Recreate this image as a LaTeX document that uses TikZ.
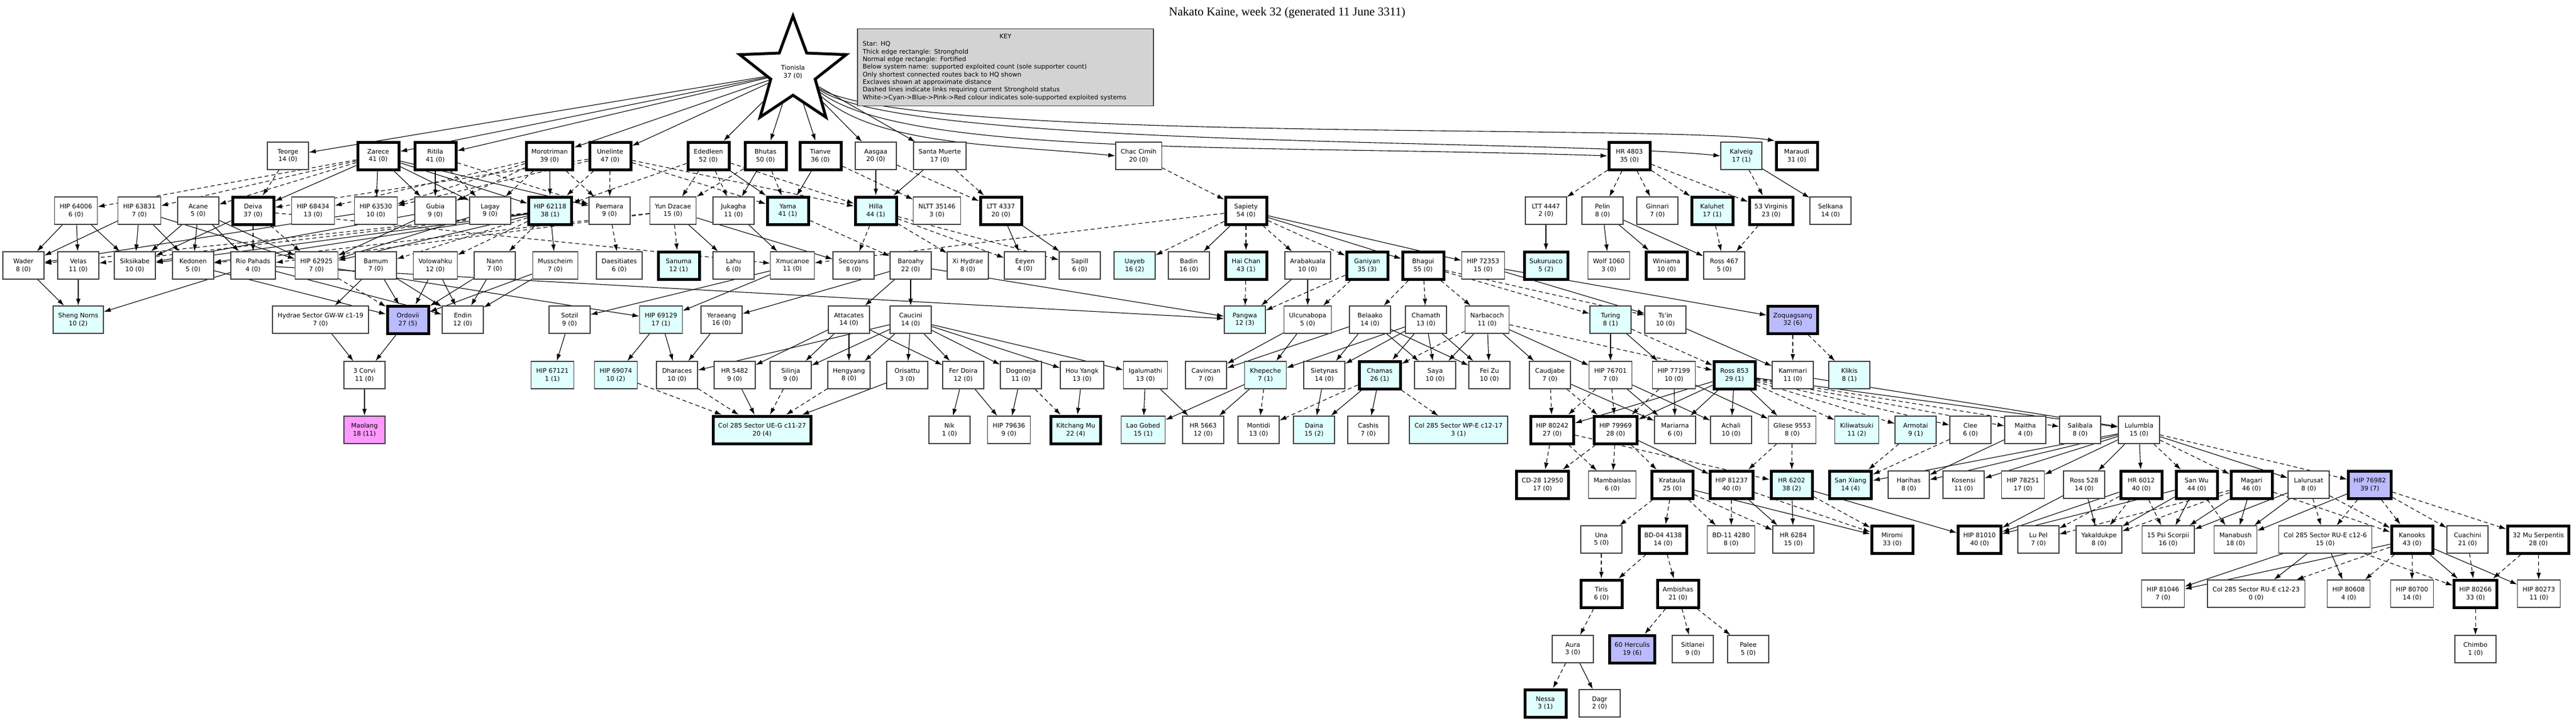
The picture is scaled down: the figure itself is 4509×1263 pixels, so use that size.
\documentclass[tikz,border=0pt]{standalone}
\usepackage{fontspec}
\setmainfont{DejaVu Sans}
\newfontfamily\titlefont{Liberation Serif}
\usetikzlibrary{shapes.geometric,arrows.meta}
\pgfdeclarelayer{edgelayer}
\pgfsetlayers{edgelayer,main}
\definecolor{cyn}{HTML}{E0FFFF}
\definecolor{blu}{HTML}{BBBBFF}
\definecolor{pnk}{HTML}{FF99FF}
\definecolor{keyg}{HTML}{D3D3D3}
\tikzset{
 sys/.style={draw=black!75,line width=1.4pt,fill=white,rectangle,align=center,minimum width=72pt,minimum height=48pt,inner xsep=9pt,font=\fontsize{11}{13.3}\selectfont},
 th/.style={draw=black,line width=5pt},
 cy/.style={fill=cyn}, bl/.style={fill=blu}, pk/.style={fill=pnk},
 ar/.style={-{Latex[length=12pt,width=8pt]},line width=1.1pt},
 da/.style={ar,dash pattern=on 7pt off 5pt},
}
\begin{document}
\begin{tikzpicture}[x=1pt,y=1pt]
\useasboundingbox (0,0) rectangle (4509,-1263);
\node[font=\titlefont\fontsize{21}{24}\selectfont] (title) at (2253,-22) {Nakato Kaine, week 32 (generated 11 June 3311)};
\node[draw=black!75,line width=1.2pt,fill=keyg,text width=500pt,align=left,inner sep=9pt,font=\fontsize{11}{13.3}\selectfont] (key) at (1760,-118) {\makebox[\linewidth]{KEY}\\Star: HQ\\Thick edge rectangle: Stronghold\\Normal edge rectangle: Fortified\\Below system name: supported exploited count (sole supporter count)\\Only shortest connected routes back to HQ shown\\Exclaves shown at approximate distance\\Dashed lines indicate links requiring current Stronghold status\\White->Cyan->Blue->Pink->Red colour indicates sole-supported exploited systems};
\node[star,star points=5,star point ratio=2.4,minimum size=196pt,inner sep=0pt,draw=black,line width=5pt,fill=white,align=center,font=\fontsize{11}{13.3}\selectfont] (T) at (1388,-126) {Tionisla\\37 (0)};
% r1
\node[sys] (teorge) at (504,-273) {Teorge\\14 (0)};
\node[sys,th] (zarece) at (662,-273) {Zarece\\41 (0)};
\node[sys,th] (ritila) at (762,-273) {Ritila\\41 (0)};
\node[sys,th] (moro) at (962,-273) {Morotriman\\39 (0)};
\node[sys,th] (unel) at (1068,-273) {Unelinte\\47 (0)};
\node[sys,th] (eded) at (1240,-273) {Ededleen\\52 (0)};
\node[sys,th] (bhutas) at (1340,-273) {Bhutas\\50 (0)};
\node[sys,th] (tianve) at (1436,-273) {Tianve\\36 (0)};
\node[sys] (aasgaa) at (1533,-273) {Aasgaa\\20 (0)};
\node[sys] (santa) at (1645,-273) {Santa Muerte\\17 (0)};
\node[sys] (chac) at (1993,-273) {Chac Cimih\\20 (0)};
\node[sys,th] (hr4803) at (2852,-273) {HR 4803\\35 (0)};
\node[sys,cy] (kalveig) at (3048,-273) {Kalveig\\17 (1)};
\node[sys,th] (maraudi) at (3145,-273) {Maraudi\\31 (0)};
% r2
\node[sys] (h64006) at (133,-369) {HIP 64006\\6 (0)};
\node[sys] (h63831) at (244,-369) {HIP 63831\\7 (0)};
\node[sys] (acane) at (347,-369) {Acane\\5 (0)};
\node[sys,th] (deiva) at (443,-369) {Deiva\\37 (0)};
\node[sys] (h68434) at (548,-369) {HIP 68434\\13 (0)};
\node[sys] (h63530) at (658,-369) {HIP 63530\\10 (0)};
\node[sys] (gubia) at (762,-369) {Gubia\\9 (0)};
\node[sys] (lagay) at (858,-369) {Lagay\\9 (0)};
\node[sys,th,cy] (h62118) at (963,-369) {HIP 62118\\38 (1)};
\node[sys] (paemara) at (1067,-369) {Paemara\\9 (0)};
\node[sys] (yun) at (1178,-369) {Yun Dzacae\\15 (0)};
\node[sys] (jukagha) at (1284,-369) {Jukagha\\11 (0)};
\node[sys,th,cy] (yama) at (1379,-369) {Yama\\41 (1)};
\node[sys,th,cy] (hilla) at (1533,-369) {Hilla\\44 (1)};
\node[sys] (nltt) at (1640,-369) {NLTT 35146\\3 (0)};
\node[sys,th] (ltt4337) at (1752,-369) {LTT 4337\\20 (0)};
\node[sys,th] (sapiety) at (2181,-369) {Sapiety\\54 (0)};
\node[sys] (ltt4447) at (2706,-369) {LTT 4447\\2 (0)};
\node[sys] (pelin) at (2805,-369) {Pelin\\8 (0)};
\node[sys] (ginnari) at (2901,-369) {Ginnari\\7 (0)};
\node[sys,th,cy] (kaluhet) at (2997,-369) {Kaluhet\\17 (1)};
\node[sys,th] (v53) at (3100,-369) {53 Virginis\\23 (0)};
\node[sys] (selkana) at (3204,-369) {Selkana\\14 (0)};
% r3
\node[sys] (wader) at (41,-465) {Wader\\8 (0)};
\node[sys] (velas) at (137,-465) {Velas\\11 (0)};
\node[sys] (siksi) at (236,-465) {Siksikabe\\10 (0)};
\node[sys] (kedonen) at (338,-465) {Kedonen\\5 (0)};
\node[sys] (rio) at (443,-465) {Rio Pahads\\4 (0)};
\node[sys] (h62925) at (554,-465) {HIP 62925\\7 (0)};
\node[sys] (bamum) at (658,-465) {Bamum\\7 (0)};
\node[sys] (volo) at (762,-465) {Volowahku\\12 (0)};
\node[sys] (nann) at (866,-465) {Nann\\7 (0)};
\node[sys] (muss) at (972,-465) {Musscheim\\7 (0)};
\node[sys] (daes) at (1084,-465) {Daesitiates\\6 (0)};
\node[sys,th,cy] (sanuma) at (1188,-465) {Sanuma\\12 (1)};
\node[sys] (lahu) at (1284,-465) {Lahu\\6 (0)};
\node[sys] (xmu) at (1387,-465) {Xmucanoe\\11 (0)};
\node[sys] (secoy) at (1494,-465) {Secoyans\\8 (0)};
\node[sys] (baroahy) at (1594,-465) {Baroahy\\22 (0)};
\node[sys] (xihyd) at (1694,-465) {Xi Hydrae\\8 (0)};
\node[sys] (eeyen) at (1794,-465) {Eeyen\\4 (0)};
\node[sys] (sapill) at (1890,-465) {Sapill\\6 (0)};
\node[sys,cy] (uayeb) at (1986,-465) {Uayeb\\16 (2)};
\node[sys] (badin) at (2081,-465) {Badin\\16 (0)};
\node[sys,th,cy] (haichan) at (2181,-465) {Hai Chan\\43 (1)};
\node[sys] (arab) at (2289,-465) {Arabakuala\\10 (0)};
\node[sys,th,cy] (ganiyan) at (2393,-465) {Ganiyan\\35 (3)};
\node[sys,th] (bhagui) at (2491,-465) {Bhagui\\55 (0)};
\node[sys] (h72353) at (2596,-465) {HIP 72353\\15 (0)};
\node[sys,th,cy] (sukur) at (2706,-465) {Sukuruaco\\5 (2)};
\node[sys] (wolf) at (2816,-465) {Wolf 1060\\3 (0)};
\node[sys,th] (winiama) at (2917,-465) {Winiama\\10 (0)};
\node[sys] (ross467) at (3018,-465) {Ross 467\\5 (0)};
% r4
\node[sys,cy] (sheng) at (137,-560) {Sheng Norns\\10 (2)};
\node[sys] (hydrae) at (561,-560) {Hydrae Sector GW-W c1-19\\7 (0)};
\node[sys,th,bl] (ordovii) at (714,-560) {Ordovii\\27 (5)};
\node[sys] (endin) at (810,-560) {Endin\\12 (0)};
\node[sys] (sotzil) at (997,-560) {Sotzil\\9 (0)};
\node[sys,cy] (h69129) at (1157,-560) {HIP 69129\\17 (1)};
\node[sys] (yeraeang) at (1263,-560) {Yeraeang\\16 (0)};
\node[sys] (attac) at (1486,-560) {Attacates\\14 (0)};
\node[sys] (caucini) at (1594,-560) {Caucini\\14 (0)};
\node[sys,cy] (pangwa) at (2179,-560) {Pangwa\\12 (3)};
\node[sys] (ulcun) at (2289,-560) {Ulcunabopa\\5 (0)};
\node[sys] (belaako) at (2398,-560) {Belaako\\14 (0)};
\node[sys] (chamath) at (2496,-560) {Chamath\\13 (0)};
\node[sys] (narba) at (2603,-560) {Narbacoch\\11 (0)};
\node[sys,cy] (turing) at (2819,-560) {Turing\\8 (1)};
\node[sys] (tsin) at (2915,-560) {Ts'in\\10 (0)};
\node[sys,th,bl] (zoqu) at (3138,-560) {Zoquagsang\\32 (6)};
% r5
\node[sys] (corvi) at (638,-657) {3 Corvi\\11 (0)};
\node[sys,cy] (h67121) at (967,-657) {HIP 67121\\1 (1)};
\node[sys,cy] (h69074) at (1078,-657) {HIP 69074\\10 (2)};
\node[sys] (dhar) at (1185,-657) {Dharaces\\10 (0)};
\node[sys] (hr5482) at (1286,-657) {HR 5482\\9 (0)};
\node[sys] (silinja) at (1384,-657) {Silinja\\9 (0)};
\node[sys] (hengyang) at (1486,-657) {Hengyang\\8 (0)};
\node[sys] (orisattu) at (1588,-657) {Orisattu\\3 (0)};
\node[sys] (ferdoira) at (1686,-657) {Fer Doira\\12 (0)};
\node[sys] (dogoneja) at (1787,-657) {Dogoneja\\11 (0)};
\node[sys] (houyangk) at (1894,-657) {Hou Yangk\\13 (0)};
\node[sys] (igalu) at (2005,-657) {Igalumathi\\13 (0)};
\node[sys] (cavincan) at (2111,-657) {Cavincan\\7 (0)};
\node[sys,cy] (khepeche) at (2215,-657) {Khepeche\\7 (1)};
\node[sys] (sietynas) at (2318,-657) {Sietynas\\14 (0)};
\node[sys,th,cy] (chamas) at (2415,-657) {Chamas\\26 (1)};
\node[sys] (saya) at (2512,-657) {Saya\\10 (0)};
\node[sys] (feizu) at (2607,-657) {Fei Zu\\10 (0)};
\node[sys] (caudjabe) at (2713,-657) {Caudjabe\\7 (0)};
\node[sys] (h76701) at (2819,-657) {HIP 76701\\7 (0)};
\node[sys] (h77199) at (2930,-657) {HIP 77199\\10 (0)};
\node[sys,th,cy] (ross853) at (3036,-657) {Ross 853\\29 (1)};
\node[sys] (kammari) at (3138,-657) {Kammari\\11 (0)};
\node[sys,cy] (klikis) at (3237,-657) {Klikis\\8 (1)};
% r6
\node[sys,pk] (maolang) at (638,-753) {Maolang\\18 (11)};
\node[sys,th,cy] (colueg) at (1334,-753) {Col 285 Sector UE-G c11-27\\20 (4)};
\node[sys] (nik) at (1662,-753) {Nik\\1 (0)};
\node[sys] (h79636) at (1766,-753) {HIP 79636\\9 (0)};
\node[sys,th,cy] (kitchang) at (1883,-753) {Kitchang Mu\\22 (4)};
\node[sys,cy] (laogobed) at (2001,-753) {Lao Gobed\\15 (1)};
\node[sys] (hr5663) at (2106,-753) {HR 5663\\12 (0)};
\node[sys] (montidi) at (2203,-753) {Montidi\\13 (0)};
\node[sys,cy] (daina) at (2300,-753) {Daina\\15 (2)};
\node[sys] (cashis) at (2395,-753) {Cashis\\7 (0)};
\node[sys,cy] (colwpe) at (2553,-753) {Col 285 Sector WP-E c12-17\\3 (1)};
\node[sys,th] (h80242) at (2717,-753) {HIP 80242\\27 (0)};
\node[sys,th] (h79969) at (2828,-753) {HIP 79969\\28 (0)};
\node[sys] (mariarna) at (2932,-753) {Mariarna\\6 (0)};
\node[sys] (achali) at (3030,-753) {Achali\\10 (0)};
\node[sys] (gliese) at (3137,-753) {Gliese 9553\\8 (0)};
\node[sys,cy] (kiliw) at (3250,-753) {Kiliwatsuki\\11 (2)};
\node[sys,cy] (armotai) at (3353,-753) {Armotai\\9 (1)};
\node[sys] (clee) at (3449,-753) {Clee\\6 (0)};
\node[sys] (maitha) at (3545,-753) {Maitha\\4 (0)};
\node[sys] (salibala) at (3641,-753) {Salibala\\8 (0)};
\node[sys] (lulumbla) at (3744,-753) {Lulumbla\\15 (0)};
% r7
\node[sys,th] (cd28) at (2700,-849) {CD-28 12950\\17 (0)};
\node[sys] (mambais) at (2822,-849) {Mambaislas\\6 (0)};
\node[sys,th] (krataula) at (2927,-849) {Krataula\\25 (0)};
\node[sys,th] (h81237) at (3031,-849) {HIP 81237\\40 (0)};
\node[sys,th,cy] (hr6202) at (3136,-849) {HR 6202\\38 (2)};
\node[sys,th,cy] (sanxiang) at (3239,-849) {San Xiang\\14 (4)};
\node[sys] (harihas) at (3341,-849) {Harihas\\8 (0)};
\node[sys] (kosensi) at (3437,-849) {Kosensi\\11 (0)};
\node[sys] (h78251) at (3541,-849) {HIP 78251\\17 (0)};
\node[sys] (ross528) at (3648,-849) {Ross 528\\14 (0)};
\node[sys,th] (hr6012) at (3748,-849) {HR 6012\\40 (0)};
\node[sys,th] (sanwu) at (3845,-849) {San Wu\\44 (0)};
\node[sys,th] (magari) at (3941,-849) {Magari\\46 (0)};
\node[sys] (lalurusat) at (4041,-849) {Lalurusat\\8 (0)};
\node[sys,th,bl] (h76982) at (4148,-849) {HIP 76982\\39 (7)};
% r8
\node[sys] (una) at (2803,-945) {Una\\5 (0)};
\node[sys,th] (bd04) at (2911,-945) {BD-04 4138\\14 (0)};
\node[sys] (bd11) at (3030,-945) {BD-11 4280\\8 (0)};
\node[sys] (hr6284) at (3139,-945) {HR 6284\\15 (0)};
\node[sys,th] (miromi) at (3312,-945) {Miromi\\33 (0)};
\node[sys,th] (h81010) at (3465,-945) {HIP 81010\\40 (0)};
\node[sys] (lupel) at (3568,-945) {Lu Pel\\7 (0)};
\node[sys] (yakal) at (3674,-945) {Yakaldukpe\\8 (0)};
\node[sys] (psi15) at (3795,-945) {15 Psi Scorpii\\16 (0)};
\node[sys] (manabush) at (3913,-945) {Manabush\\18 (0)};
\node[sys] (colrue6) at (4070,-945) {Col 285 Sector RU-E c12-6\\15 (0)};
\node[sys,th] (kanooks) at (4222,-945) {Kanooks\\43 (0)};
\node[sys] (cuachini) at (4319,-945) {Cuachini\\21 (0)};
\node[sys,th] (mu32) at (4443,-945) {32 Mu Serpentis\\28 (0)};
% r9
\node[sys,th] (tiris) at (2803,-1040) {Tiris\\6 (0)};
\node[sys,th] (ambishas) at (2937,-1040) {Ambishas\\21 (0)};
\node[sys] (h81046) at (3786,-1040) {HIP 81046\\7 (0)};
\node[sys] (colrue23) at (3949,-1040) {Col 285 Sector RU-E c12-23\\0 (0)};
\node[sys] (h80608) at (4111,-1040) {HIP 80608\\4 (0)};
\node[sys] (h80700) at (4222,-1040) {HIP 80700\\14 (0)};
\node[sys,th] (h80266) at (4333,-1040) {HIP 80266\\33 (0)};
\node[sys] (h80273) at (4444,-1040) {HIP 80273\\11 (0)};
% r10
\node[sys] (aura) at (2753,-1137) {Aura\\3 (0)};
\node[sys,th,bl] (herc60) at (2857,-1137) {60 Herculis\\19 (6)};
\node[sys] (sitlanei) at (2963,-1137) {Sitlanei\\9 (0)};
\node[sys] (palee) at (3060,-1137) {Palee\\5 (0)};
\node[sys] (chimbo) at (4333,-1137) {Chimbo\\1 (0)};
% r11
\node[sys,th,cy] (nessa) at (2705,-1232) {Nessa\\3 (1)};
\node[sys] (dagr) at (2800,-1232) {Dagr\\2 (0)};
% edges
\begin{pgfonlayer}{edgelayer}
\foreach \b in {teorge,zarece,ritila,moro,unel,eded,bhutas,tianve,aasgaa,santa}
  \draw[ar] (T) -- (\b);
\draw[ar] (T) .. controls +(150,-130) and +(-200,20) .. (chac.west);
\draw[ar] (T) .. controls +(200,-150) and +(-600,20) .. (hr4803.west);
\draw[ar] (T) .. controls +(200,-135) and +(-300,30) .. (kalveig.west);
\draw[ar] (T) .. controls +(200,-125) and +(-200,30) .. (maraudi.north west);
\foreach \a/\b in {zarece/deiva,zarece/h63530,zarece/gubia,zarece/lagay,zarece/h62118,zarece/paemara,ritila/gubia,moro/h62118,eded/yama,bhutas/jukagha,tianve/yama,aasgaa/hilla,santa/hilla,kalveig/selkana,
h64006/wader,h64006/velas,h64006/siksi,h63831/wader,h63831/siksi,h63831/kedonen,h63831/h62925,acane/siksi,acane/kedonen,acane/rio,acane/h62925,deiva/siksi,h63530/wader,gubia/h62925,gubia/siksi,lagay/h62925,h62118/kedonen,h62118/siksi,h62118/h62925,h62118/muss,yun/lahu,yun/secoy,jukagha/xmu,ltt4337/eeyen,ltt4337/sapill,sapiety/badin,sapiety/bhagui,sapiety/h72353,ltt4447/sukur,pelin/wolf,pelin/winiama,pelin/ross467,
wader/sheng,velas/sheng,rio/sheng,kedonen/ordovii,rio/endin,h62925/h69129,bamum/hydrae,bamum/ordovii,bamum/endin,volo/ordovii,volo/endin,nann/ordovii,nann/endin,muss/ordovii,muss/endin,xmu/sotzil,xmu/h69129,baroahy/yeraeang,baroahy/attac,baroahy/caucini,arab/pangwa,arab/ulcun,h72353/tsin,h72353/zoqu,
hydrae/corvi,ordovii/corvi,sotzil/h67121,h69129/h69074,h69129/dhar,yeraeang/dhar,attac/hr5482,attac/silinja,attac/hengyang,attac/ferdoira,caucini/dhar,caucini/silinja,caucini/hengyang,caucini/orisattu,caucini/ferdoira,caucini/dogoneja,caucini/houyangk,caucini/igalu,belaako/cavincan,belaako/sietynas,belaako/saya,belaako/feizu,chamath/sietynas,chamath/chamas,chamath/saya,chamath/feizu,chamath/khepeche,narba/caudjabe,narba/feizu,narba/saya,narba/h76701,turing/h76701,turing/h77199,tsin/kammari,ulcun/cavincan,ulcun/khepeche,
corvi/maolang,hr5482/colueg,orisattu/colueg,ferdoira/nik,ferdoira/h79636,dogoneja/h79636,houyangk/kitchang,igalu/laogobed,igalu/hr5663,khepeche/laogobed,khepeche/hr5663,sietynas/daina,chamas/daina,chamas/cashis,caudjabe/mariarna,h76701/mariarna,h76701/achali,h77199/mariarna,h77199/gliese,ross853/h80242,ross853/h79969,ross853/mariarna,ross853/achali,ross853/gliese,
h79969/h81237,lulumbla/kosensi,lulumbla/h78251,lulumbla/ross528,lulumbla/hr6012,lulumbla/lalurusat,krataula/miromi,h81237/hr6284,hr6202/hr6284,hr6202/h81010,ross528/h81010,ross528/yakal,hr6012/h81010,sanwu/h81010,sanwu/yakal,sanwu/psi15,magari/psi15,magari/manabush,lalurusat/psi15,lalurusat/manabush,h76982/manabush,
colrue6/h81046,colrue6/colrue23,colrue6/h80608,kanooks/h80266,kanooks/h80273,aura/dagr,
rio/pangwa,baroahy/pangwa,ross853/lulumbla,kammari/lulumbla,lulumbla/sanxiang,lulumbla/harihas,maitha/harihas,kanooks/h81046}
  \draw[ar] (\a) -- (\b);
\foreach \a/\b in {teorge/deiva,zarece/h64006,zarece/h63831,zarece/acane,ritila/lagay,ritila/paemara,moro/h68434,moro/h63530,moro/gubia,moro/lagay,moro/paemara,unel/deiva,unel/h63530,unel/h62118,unel/paemara,unel/hilla,unel/yama,eded/yun,eded/jukagha,eded/hilla,eded/h62118,bhutas/yun,bhutas/yama,tianve/nltt,aasgaa/ltt4337,santa/ltt4337,chac/sapiety,hr4803/ltt4447,hr4803/pelin,hr4803/ginnari,hr4803/kaluhet,hr4803/v53,kalveig/v53,
deiva/rio,deiva/h62925,deiva/xmu,h62118/bamum,h62118/volo,h62118/nann,h62118/wader,h62118/velas,paemara/daes,yun/sanuma,yun/kedonen,yun/rio,yama/baroahy,hilla/secoy,hilla/xihyd,hilla/eeyen,hilla/sapill,sapiety/xmu,sapiety/uayeb,sapiety/haichan,sapiety/arab,sapiety/ganiyan,kaluhet/ross467,v53/ross467,
h62925/ordovii,haichan/pangwa,ganiyan/ulcun,ganiyan/pangwa,bhagui/belaako,bhagui/chamath,bhagui/narba,bhagui/turing,bhagui/tsin,narba/chamas,narba/ross853,turing/ross853,zoqu/kammari,zoqu/klikis,
h69074/colueg,dhar/colueg,silinja/colueg,hengyang/colueg,dogoneja/kitchang,khepeche/montidi,chamas/montidi,chamas/colwpe,caudjabe/h80242,caudjabe/h79969,h76701/h80242,h76701/h79969,h77199/h79969,ross853/kiliw,ross853/armotai,ross853/clee,ross853/maitha,ross853/salibala,
h80242/cd28,h80242/mambais,h80242/hr6202,h79969/cd28,h79969/mambais,h79969/krataula,gliese/h81237,gliese/hr6202,armotai/sanxiang,clee/sanxiang,lulumbla/sanwu,lulumbla/magari,lulumbla/h76982,
krataula/una,krataula/bd04,krataula/bd11,krataula/hr6284,h81237/bd11,h81237/miromi,hr6202/miromi,hr6012/yakal,hr6012/psi15,hr6012/lupel,sanwu/manabush,magari/lupel,magari/yakal,magari/kanooks,lalurusat/colrue6,lalurusat/kanooks,h76982/colrue6,h76982/cuachini,h76982/mu32,h76982/kanooks,
una/tiris,bd04/tiris,bd04/ambishas,colrue6/h80266,kanooks/colrue23,kanooks/h80608,kanooks/h80700,cuachini/h80266,mu32/h80266,mu32/h80273,tiris/aura,ambishas/herc60,ambishas/sitlanei,ambishas/palee,h80266/chimbo,aura/nessa}
  \draw[da] (\a) -- (\b);
\end{pgfonlayer}
\end{tikzpicture}
\end{document}
